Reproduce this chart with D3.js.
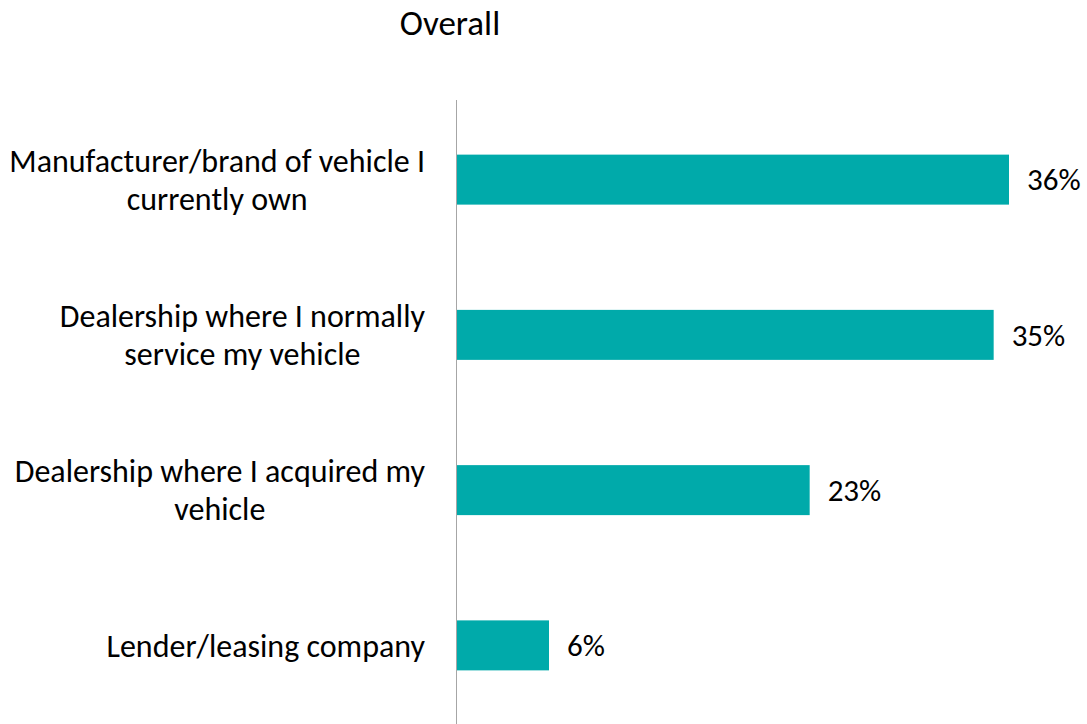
<!DOCTYPE html>
<html>
<head>
<meta charset="utf-8">
<script src="https://cdn.jsdelivr.net/npm/d3@7"></script>
<style>
  html, body { margin: 0; padding: 0; background: #fff; }
  svg { display: block; font-family: Carlito, Calibri, Lato, sans-serif; }
</style>
</head>
<body>
<svg id="chart" width="1087" height="724"></svg>
<script>
// Survey categories (each entry is the wrapped lines of one label)
const categories = [
  ["Manufacturer/brand of vehicle I", "currently own"],
  ["Dealership where I normally", "service my vehicle"],
  ["Dealership where I acquired my", "vehicle"],
  ["Lender/leasing company"]
];
// Share of respondents, percent
const values = [36, 35, 23, 6];
const chartTitle = "Overall";

const svg = d3.select("#chart");
const keys = categories.map((c, i) => i);

const x = d3.scaleLinear().domain([0, 36]).range([457, 1009]);
const y = d3.scaleBand().domain(keys).range([102, 723])
  .paddingInner(0.678).paddingOuter(0.339);

// Title
svg.append("text")
  .attr("x", 450).attr("y", 35)
  .attr("text-anchor", "middle")
  .attr("font-size", 35)
  .attr("fill", "#000")
  .text(chartTitle);

// Bars
svg.append("g").selectAll("rect")
  .data(values)
  .join("rect")
  .attr("x", x(0))
  .attr("y", (d, i) => y(i))
  .attr("width", d => x(d) - x(0))
  .attr("height", y.bandwidth())
  .attr("fill", "#00AAAA");

// Value labels
svg.append("g").selectAll("text")
  .data(values)
  .join("text")
  .attr("x", d => x(d) + 18)
  .attr("y", (d, i) => y(i) + y.bandwidth() / 2)
  .attr("dy", "0.35em")
  .attr("font-size", 31)
  .attr("fill", "#000")
  .text(d => d + "%");

// Category labels: centred text block, right edge at labelRight
const labelRight = 425;
const lineHeight = 38;
const labelG = svg.append("g");
categories.forEach((lines, i) => {
  const cy = y(i) + y.bandwidth() / 2;
  const t = labelG.append("text")
    .attr("font-size", 32)
    .attr("fill", "#000")
    .attr("text-anchor", "middle");
  const spans = lines.map((ln, j) => t.append("tspan")
    .attr("y", cy + (j - (lines.length - 1) / 2) * lineHeight)
    .attr("dy", "0.35em")
    .text(ln));
  const w = d3.max(spans, s => s.node().getComputedTextLength());
  spans.forEach(s => s.attr("x", labelRight - w / 2));
});

// Vertical category axis
svg.append("line")
  .attr("x1", 456.5).attr("x2", 456.5)
  .attr("y1", 100).attr("y2", 724)
  .attr("stroke", "#a6a6a6")
  .attr("stroke-width", 1);
</script>
</body>
</html>
